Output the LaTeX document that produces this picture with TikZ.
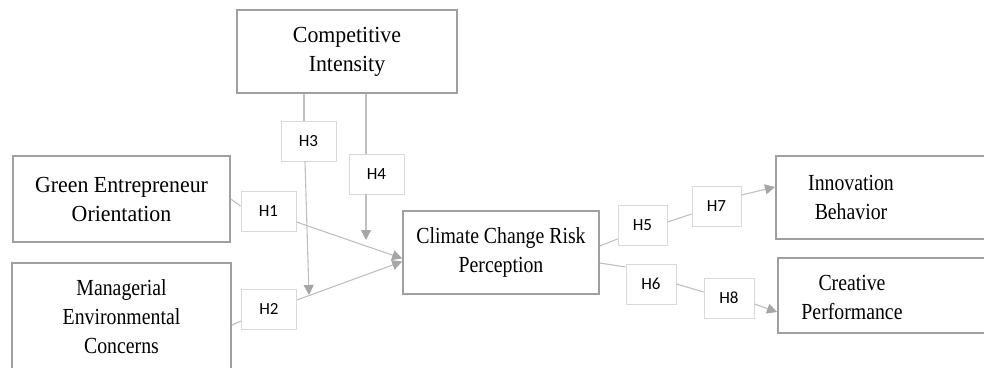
\documentclass[tikz,border=0pt]{standalone}
\usepackage{fontspec}
\setmainfont{Liberation Serif}
\newfontfamily\wideserif[FakeStretch=0.95]{Liberation Serif}
\newfontfamily\narrowserif[FakeStretch=0.86]{Liberation Serif}
\newfontfamily\hfont{Carlito}
\usetikzlibrary{arrows.meta}
\definecolor{boxgray}{HTML}{A0A0A0}
\definecolor{hgray}{HTML}{D9D9D9}
\definecolor{linegray}{HTML}{BFBFBF}
\definecolor{tipgray}{HTML}{A6A6A6}
\tikzset{
  bigbox/.style={draw=boxgray, line width=1.6pt, inner sep=0pt},
  boxtext/.style={align=center, inner sep=0pt, font=\wideserif\fontsize{23}{29}\selectfont},
  narrowtext/.style={boxtext, font=\narrowserif\fontsize{23}{29}\selectfont},
  hbox/.style={draw=hgray, line width=0.9pt, fill=white, inner sep=0pt,
    minimum width=55pt, minimum height=40pt, font=\hfont\fontsize{17}{20}\selectfont},
  link/.style={draw=linegray, line width=1.1pt},
  arrowlink/.style={link, -{Triangle[length=10pt,width=10pt,fill=tipgray,color=tipgray]}}
}
\begin{document}
\begin{tikzpicture}[x=1pt,y=-1pt]
\useasboundingbox (0,0) rectangle (984,367);
% constructs
\node[bigbox, minimum width=220pt, minimum height=83pt] (ci) at (347,51.5) {};
\node[boxtext] (citext) at (ci) {Competitive\\Intensity};
\node[bigbox, minimum width=217pt, minimum height=86pt] (geo) at (121.5,199) {};
\node[boxtext] (geotext) at (geo) {Green Entrepreneur\\Orientation};
\node[bigbox, minimum width=219pt, minimum height=106pt] (mec) at (121.5,316) {};
\node[narrowtext] (mectext) at (121.5,317) {Managerial\\Environmental\\Concerns};
\node[bigbox, minimum width=196pt, minimum height=83pt] (ccrp) at (501,252.5) {};
\node[narrowtext] (ccrptext) at (ccrp) {Climate Change Risk\\Perception};
\node[bigbox, minimum width=240pt, minimum height=83pt, anchor=west] (ib) at (775,197.5) {};
\node[narrowtext] (ibtext) at (851,197.5) {Innovation\\Behavior};
\node[bigbox, minimum width=240pt, minimum height=75pt, anchor=west] (cp) at (777,295.5) {};
\node[narrowtext] (cptext) at (852,297) {Creative\\Performance};
% hypotheses
\node[hbox] (h1) at (268.5,211) {H1};
\node[hbox] (h2) at (269,309) {H2};
\node[hbox] (h3) at (308.5,141) {H3};
\node[hbox] (h4) at (376.5,174) {H4};
\node[hbox, minimum width=49pt] (h5) at (642.5,225) {H5};
\node[hbox, minimum width=50pt] (h6) at (651,284) {H6};
\node[hbox, minimum width=49pt] (h7) at (716.5,206) {H7};
\node[hbox, minimum width=50pt] (h8) at (729,298) {H8};
% moderator targets
\coordinate (h3in) at (309,295);
\coordinate (h4in) at (366,240);
% paths
\draw[link] (geo.east) -- ([yshift=5pt]h1.west);
\draw[arrowlink] ([yshift=-11pt]h1.east) -- ([yshift=-6pt]ccrp.west);
\draw[link] ([yshift=-9pt]mec.east) -- ([yshift=-12pt]h2.west);
\draw[arrowlink] ([yshift=9pt]h2.east) -- ([yshift=-9pt]ccrp.west);
\draw[link] ([xshift=-4.5pt]h3.north |- ci.south) -- ([xshift=-4.5pt]h3.north);
\draw[arrowlink] ([xshift=-3.5pt]h3.south) -- (h3in);
\draw[link] (h4in |- ci.south) -- (h4in |- h4.north);
\draw[arrowlink] (h4in |- h4.south) -- (h4in);
\draw[link] ([yshift=6.5pt]ccrp.east) -- ([yshift=-14pt]h5.west);
\draw[link] ([yshift=3pt]h5.east) -- ([yshift=-8pt]h7.west);
\draw[arrowlink] ([yshift=11pt]h7.east) -- ([yshift=10.5pt]ib.west);
\draw[link] ([yshift=-10.5pt]ccrp.east) -- ([yshift=17pt]h6.west);
\draw[link] (h6.east) -- ([yshift=6pt]h8.west);
\draw[arrowlink] ([yshift=-6pt]h8.east) -- ([yshift=-16.5pt]cp.west);
\end{tikzpicture}
\end{document}
